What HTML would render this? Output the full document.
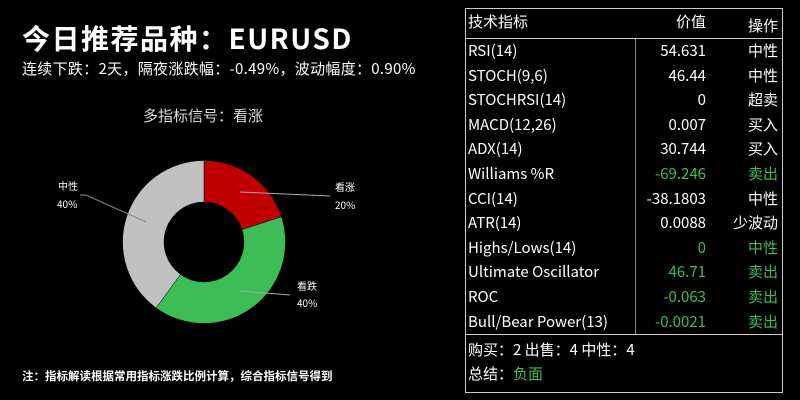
<!DOCTYPE html><html><head><meta charset="utf-8"><style>
body{margin:0;width:800px;height:400px;background:#000;overflow:hidden;font-family:"Liberation Sans","Noto Sans CJK SC",sans-serif;color:#fff;position:relative}
.a{position:absolute;white-space:nowrap}
.g{color:#3dbd55}
.t{font-family:"Noto Sans CJK SC",sans-serif;font-size:15px;line-height:20px}
.t .a{line-height:20px}
</style></head><body>
<div class="a" style="left:22px;top:19px;font-size:28px;letter-spacing:1.5px;font-weight:bold;font-family:'Noto Sans CJK SC',sans-serif;line-height:38px">今日推荐品种：EURUSD</div>
<div class="a" style="left:22px;top:59px;font-size:15px;letter-spacing:0.3px;font-family:'Noto Sans CJK SC',sans-serif;line-height:20px">连续下跌：2天，隔夜涨跌幅：-0.49%，波动幅度：0.90%</div>
<div class="a" style="left:143px;top:106px;font-size:15px;color:#ddd;font-family:'Noto Sans CJK SC',sans-serif;line-height:20px">多指标信号：看涨</div>
<svg class="a" style="left:0;top:0" width="460" height="400">
<g transform="translate(204,242)">
<path d="M0,-81.5 A81.5,81.5 0 0 1 77.5,-25.2 L38,-12.4 A40,40 0 0 0 0,-40Z" fill="#c00000" stroke="#000" stroke-width="0.5"/>
<path d="M77.5,-25.2 A81.5,81.5 0 0 1 -47.9,65.9 L-23.5,32.4 A40,40 0 0 0 38,-12.4Z" fill="#3dbd55" stroke="#000" stroke-width="0.5"/>
<path d="M-47.9,65.9 A81.5,81.5 0 0 1 0,-81.5 L0,-40 A40,40 0 0 0 -23.5,32.4Z" fill="#c0c0c0" stroke="#000" stroke-width="0.5"/>
</g>
<polyline points="240,192 330,196" stroke="#aaa" fill="none"/>
<polyline points="240,291 290,295" stroke="#aaa" fill="none"/>
<polyline points="146,222 86,195 80,195" stroke="#888" fill="none"/>
<g font-size="10" fill="#fff" font-family="Noto Sans CJK SC,sans-serif">
<text x="335" y="191">看涨</text><text x="335" y="209">20%</text>
<text x="297" y="290">看跌</text><text x="297" y="307">40%</text>
<text x="58" y="190">中性</text><text x="57" y="208">40%</text>
</g>
<text x="22" y="380" font-size="11.5" font-weight="bold" fill="#fff" font-family="Noto Sans CJK SC,sans-serif">注：指标解读根据常用指标涨跌比例计算，综合指标信号得到</text>
</svg>
<div class="a" style="left:465px;top:8px;width:316px;height:383px;border:1px solid #ccc"></div>
<div class="a" style="left:466px;top:38px;width:316px;border-top:1px solid #ccc"></div>
<div class="a" style="left:466px;top:334px;width:316px;border-top:1px solid #ccc"></div>
<div class="a" style="left:635px;top:39px;height:295px;border-left:1px solid #888"></div>
<div class="t" style="position:absolute;left:468px;top:0;width:312px">
<div class="a" style="left:0;top:12px">技术指标</div>
<div class="a" style="right:74px;top:12px">价值</div>
<div class="a" style="right:2px;top:16px">操作</div>
</div>
<div id="rows" class="t" style="position:absolute;left:468px;top:39px;width:312px"></div>
<div class="a t" style="left:468px;top:340px">购买：2 出售：4 中性：4</div>
<div class="a t" style="left:468px;top:364px">总结：<span class="g">负面</span></div>
<script>
var d=[["RSI(14)","54.631","中性",0],["STOCH(9,6)","46.44","中性",0],["STOCHRSI(14)","0","超卖",0],["MACD(12,26)","0.007","买入",0],["ADX(14)","30.744","买入",0],["Williams %R","-69.246","卖出",1],["CCI(14)","-38.1803","中性",0],["ATR(14)","0.0088","少波动",0],["Highs/Lows(14)","0","中性",1],["Ultimate Oscillator","46.71","卖出",1],["ROC","-0.063","卖出",1],["Bull/Bear Power(13)","-0.0021","卖出",1]];
var h="";d.forEach(function(r,i){var t=2+i*24.6,c=r[3]?' g':'';h+='<div class="a" style="left:0;top:'+t+'px">'+r[0]+'</div><div class="a'+c+'" style="right:74px;top:'+t+'px">'+r[1]+'</div><div class="a'+c+'" style="right:2px;top:'+t+'px">'+r[2]+'</div>';});
document.getElementById("rows").innerHTML=h;
</script>
</body></html>
